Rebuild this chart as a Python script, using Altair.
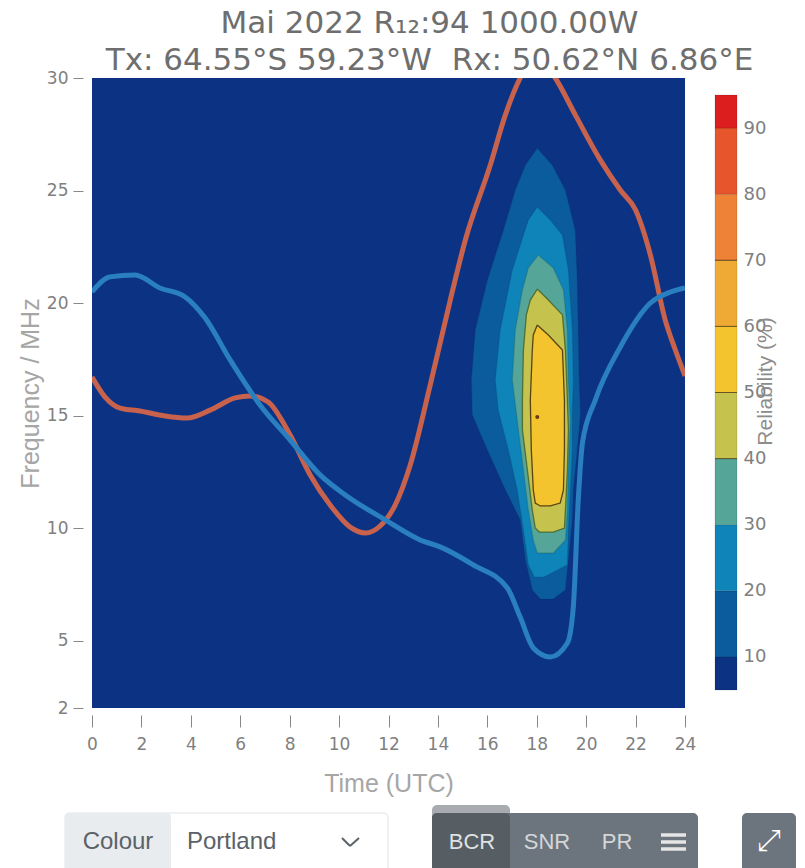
import altair as alt
import pandas as pd

# Band colours (Portland, 10 % steps)
BAND_LO = [5, 10, 20, 30, 40, 50, 60, 70, 80, 90]
BAND_HI = [10, 20, 30, 40, 50, 60, 70, 80, 90, 95]
BAND_COL = ["#0c3383", "#0b5c9c", "#0f84b8", "#55a598", "#c5c24e", "#f4c42e",
            "#eeaa34", "#ee8236", "#e6552c", "#dc1e1e"]

# Contour outlines: frequency with left and right time of each band
L10_F = [26.89, 26.13, 25.02, 23.24, 21.02, 18.8, 16.58, 15.02, 13.47, 11.69, 10.36, 8.58, 7.24, 6.84]
L10_L = [18.02, 17.54, 17.13, 16.65, 16.0, 15.51, 15.35, 15.39, 16.0, 16.73, 17.33, 17.54, 17.82, 18.14]
L10_R = [18.02, 18.63, 19.16, 19.56, 19.64, 19.68, 19.72, 19.77, 19.64, 19.48, 19.44, 19.28, 19.16, 18.67]
L20_F = [24.27, 23.69, 23.02, 21.47, 18.8, 16.58, 15.24, 13.47, 11.69, 9.91, 8.36, 7.82]
L20_L = [18.02, 17.66, 17.46, 17.01, 16.52, 16.32, 16.44, 16.85, 17.21, 17.46, 17.66, 17.9]
L20_R = [18.02, 18.55, 19.04, 19.28, 19.44, 19.48, 19.44, 19.44, 19.36, 19.28, 19.24, 18.3]
L30_F = [22.13, 21.56, 20.58, 18.8, 16.58, 14.8, 12.58, 10.8, 9.47, 8.89]
L30_L = [18.06, 17.66, 17.42, 17.13, 17.01, 17.21, 17.46, 17.66, 17.86, 18.02]
L30_R = [18.06, 18.67, 19.08, 19.24, 19.28, 19.36, 19.28, 19.24, 19.16, 18.67]
L40_F = [20.62, 20.13, 19.47, 17.91, 15.69, 14.36, 12.58, 10.8, 10.0, 9.82]
L40_L = [18.02, 17.74, 17.58, 17.46, 17.42, 17.42, 17.62, 17.82, 17.94, 18.1]
L40_R = [18.02, 18.47, 19.04, 19.16, 19.24, 19.28, 19.24, 19.16, 19.12, 18.67]
L50_F = [19.02, 18.58, 17.91, 15.69, 13.47, 11.69, 11.11, 10.98]
L50_L = [18.02, 17.86, 17.82, 17.74, 17.78, 17.86, 17.94, 18.14]
L50_R = [18.02, 18.47, 19.04, 19.12, 19.12, 19.08, 18.95, 18.55]
LEVELS = [
    (L10_F, L10_L, L10_R, "#0b5c9c", "#0a2c66", 0.2),
    (L20_F, L20_L, L20_R, "#0f84b8", "#0a3c66", 0.2),
    (L30_F, L30_L, L30_R, "#55a598", "#1d4a50", 0.25),
    (L40_F, L40_L, L40_R, "#c5c24e", "#3f5a1e", 0.75),
    (L50_F, L50_L, L50_R, "#f4c42e", "#4a3510", 0.9),
]
PEAK_T = [18.02]
PEAK_F = [14.93]

# Red and blue curves
RED_T = [0, .53, 1.13, 1.94, 2.96, 3.85, 4.78, 5.79, 6.4, 7.13, 8.02, 8.83, 9.64, 10.45, 11.06, 11.66,
         12.27, 12.88, 13.69, 14.5, 15.11, 16.12, 16.73, 17.33, 17.94, 18.75, 19.56, 20.57, 21.38, 22.0,
         22.6, 23.2, 23.61, 24]
RED_F = [16.71, 15.82, 15.33, 15.2, 14.98, 14.89, 15.24, 15.78, 15.87, 15.6, 14.13, 12.36, 11.02, 10.04,
         9.78, 10.09, 11.02, 12.8, 16.36, 20.13, 22.8, 26.13, 28.36, 30, 31.0, 30, 28.36, 26.36, 25.02,
         24.13, 22.13, 19.24, 17.91, 16.76]
BLUE_T = [0, .73, 1.74, 2.75, 3.77, 4.58, 5.59, 6.8, 8.02, 9.23, 10.25, 11.87, 13.28, 14.09, 15.43, 16.81,
          17.33, 17.86, 18.55, 19.24, 19.48, 19.68, 19.85, 20.37, 21.38, 22.6, 23.41, 24]
BLUE_F = [20.49, 21.16, 21.24, 20.67, 20.27, 19.33, 17.47, 15.47, 13.91, 12.36, 11.47, 10.36, 9.47, 9.16,
          8.36, 7.33, 6.04, 4.67, 4.27, 4.89, 6.49, 11.24, 13.78, 15.69, 18.04, 20.0, 20.49, 20.67]

X_TICKS = list(range(0, 25, 2))
Y_TICKS = [2, 5, 10, 15, 20, 25, 30]
CB_TICKS = [10, 20, 30, 40, 50, 60, 70, 80, 90]
CB_DARK = [40, 50, 60, 70]

TITLE_LINES = ["Mai 2022 R\u2081\u2082:94 1000.00W",
               "Tx: 64.55\u00b0S 59.23\u00b0W\u00a0\u00a0Rx: 50.62\u00b0N 6.86\u00b0E"]

W, H = 593, 630
xs = alt.Scale(domain=[0, 24], nice=False, zero=False)
ys = alt.Scale(domain=[2, 30], nice=False, zero=False)
X_NONE = alt.X("t:Q", scale=xs, axis=None)
Y_NONE = alt.Y("f:Q", scale=ys, axis=None)

layers = []

# contour fills and outlines
for F, L, R, col, edge, op in LEVELS:
    d = pd.DataFrame({"f": F, "l": L, "r": R})
    layers.append(alt.Chart(d).mark_area(orient="horizontal", color=col, opacity=1).encode(
        x=alt.X("l:Q", scale=xs, axis=None), x2="r:Q", y=Y_NONE))
    ring_t = L + R[::-1] + L[:1]
    ring_f = F + F[::-1] + F[:1]
    o = pd.DataFrame({"t": ring_t, "f": ring_f, "i": list(range(len(ring_t)))})
    layers.append(alt.Chart(o).mark_line(color=edge, opacity=op, strokeWidth=1.3).encode(
        x=X_NONE, y=Y_NONE, order="i:Q"))

layers.append(alt.Chart(pd.DataFrame({"t": PEAK_T, "f": PEAK_F})).mark_point(
    filled=True, color="#5a2a10", size=16, opacity=0.9).encode(x=X_NONE, y=Y_NONE))

# curves with the axes
x_axis = alt.Axis(values=X_TICKS, title="Time (UTC)", domain=False, grid=False, offset=7, tickSize=12,
                  tickColor="#888888", labelColor="#808080", labelFont="DejaVu Sans", labelFontSize=17,
                  labelPadding=9, titleFont="Liberation Sans", titleFontWeight="normal", titleFontSize=25,
                  titleColor="#a6a6a6", titlePadding=19, labelFlush=False)
y_axis = alt.Axis(values=Y_TICKS, title="Frequency / MHz", domain=False, grid=False, offset=9, tickSize=10,
                  tickColor="#888888", labelColor="#808080", labelFont="DejaVu Sans", labelFontSize=17,
                  labelPadding=5, titleFont="Liberation Sans", titleFontWeight="normal", titleFontSize=25,
                  titleColor="#a6a6a6", titlePadding=3, labelFlush=False)
layers.append(alt.Chart(pd.DataFrame({"t": RED_T, "f": RED_F})).mark_line(
    color="#c8624c", strokeWidth=5, interpolate="monotone", clip=True).encode(
    x=alt.X("t:Q", scale=xs, axis=x_axis), y=alt.Y("f:Q", scale=ys, axis=y_axis)))
layers.append(alt.Chart(pd.DataFrame({"t": BLUE_T, "f": BLUE_F})).mark_line(
    color="#2a7fc0", strokeWidth=5, interpolate="monotone", clip=True).encode(x=X_NONE, y=Y_NONE))

# colour bar: own scales, placed right of the plot
cbx = alt.Scale(domain=[0, 1], range=[623, 645])
cby = alt.Scale(domain=[5, 95], range=[612, 17], nice=False, zero=False)
cb = pd.DataFrame({"a": [0] * 10, "b": [1] * 10, "lo": BAND_LO, "hi": BAND_HI, "c": BAND_COL})
cb_axis = alt.Axis(values=CB_TICKS, orient="right", offset=52, title="Reliability (%)", domain=False, grid=False,
                   ticks=False, labelColor="#808080", labelFont="DejaVu Sans", labelFontSize=18, labelPadding=6,
                   titleFont="Liberation Sans", titleFontWeight="normal", titleFontSize=21, titleColor="#8c8c8c",
                   titlePadding=10, titleAngle=270, titleY=303)
layers.append(alt.Chart(cb).mark_rect(stroke="#000000", strokeOpacity=0.12, strokeWidth=1).encode(
    x=alt.X("a:Q", scale=cbx, axis=None), x2="b:Q",
    y=alt.Y("lo:Q", scale=cby, axis=cb_axis), y2="hi:Q",
    color=alt.Color("c:N", scale=None)))
layers.append(alt.Chart(pd.DataFrame({"a": [0] * 4, "b": [1] * 4, "lo": CB_DARK})).mark_rule(
    color="#4a3510", opacity=0.75, strokeWidth=1).encode(
    x=alt.X("a:Q", scale=cbx, axis=None), x2="b:Q", y=alt.Y("lo:Q", scale=cby, axis=None)))


# page controls below the chart
def box(x0, x1, y0, y1, color, stroke=None, r=0):
    kw = {"color": color, "cornerRadius": r}
    if stroke:
        kw.update(stroke=stroke, strokeWidth=1)
    return alt.Chart().mark_rect(**kw).encode(
        x=alt.value(x0), x2=alt.value(x1), y=alt.value(y0), y2=alt.value(y1))


def label(txt, x, y, color, size=20, font="Liberation Sans", align="center"):
    return alt.Chart().mark_text(text=txt, font=font, fontSize=size, color=color, align=align,
                                 baseline="middle").encode(x=alt.value(x), y=alt.value(y))


def stroke(x0, y0, x1, y1, color, w=2):
    return alt.Chart().mark_rule(color=color, strokeWidth=w).encode(
        x=alt.value(x0), x2=alt.value(x1), y=alt.value(y0), y2=alt.value(y1))


layers += [
    box(-27, 296, 735, 800, "#ffffff", "#dee2e6", 4),
    box(-27, 79, 735, 800, "#e9ecef", None, 4),
    label("Colour", 26, 764, "#5a6268", size=24),
    label("Portland", 95, 764, "#5a6268", size=24, align="left"),
    stroke(250, 760, 258, 768, "#5a6268"),
    stroke(258, 768, 267, 760, "#5a6268"),
    box(340, 418, 727, 745, "#a8acb0", None, 5),
    box(340, 606, 735, 800, "#6c757d", None, 5),
    box(340, 418, 735, 800, "#565e64", None, 5),
    label("BCR", 380, 764, "#dfe1e3", size=22),
    label("SNR", 455, 764, "#d4d6d8", size=22),
    label("PR", 525, 764, "#d4d6d8", size=22),
    stroke(569, 757, 594, 757, "#e6e6e6", 3.5),
    stroke(569, 764, 594, 764, "#e6e6e6", 3.5),
    stroke(569, 771, 594, 771, "#e6e6e6", 3.5),
    box(650, 704, 735, 800, "#6c757d", None, 5),
    label("\u2922", 677, 763, "#ffffff", size=30, font="DejaVu Sans"),
]

chart = alt.layer(*layers).resolve_scale(x="independent", y="independent").properties(
    width=W, height=H,
    autosize=alt.AutoSizeParams(type="none"),
    padding={"left": 84, "top": 70, "right": 112, "bottom": 160},
    title=alt.TitleParams(text=TITLE_LINES, font="DejaVu Sans", fontSize=31, fontWeight="normal", color="#6e6e6e",
                          anchor="middle", dx=41, offset=-8, lineHeight=37),
).configure_view(fill="#0c3383", stroke=None)

chart.save("out.html", embed_options={"renderer": "svg", "actions": False})
